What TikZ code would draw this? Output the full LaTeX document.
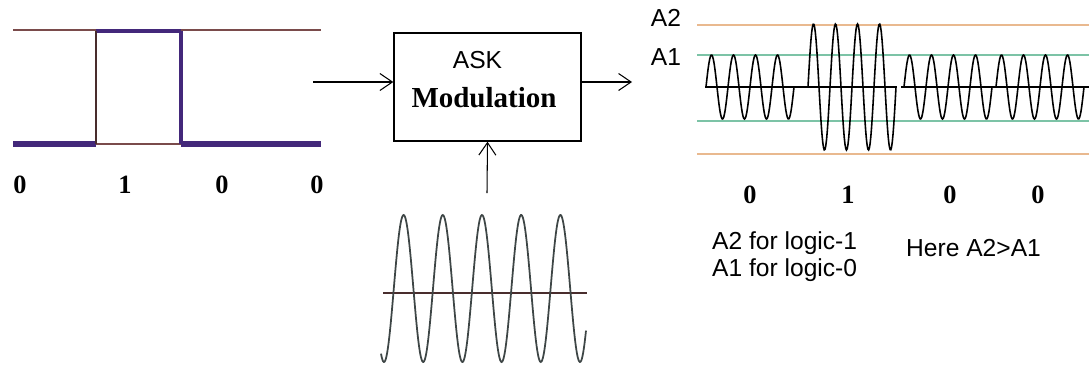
\documentclass[tikz,border=0pt]{standalone}
\usepackage{fontspec}
\setmainfont{Liberation Sans}
\newfontfamily\bitfont{Liberation Serif}
\usetikzlibrary{arrows.meta,positioning,calc}
\definecolor{lvlbrown}{HTML}{7A4B4B}
\definecolor{pulsepurple}{HTML}{43287A}
\definecolor{ampA}{HTML}{E9B98F}
\definecolor{ampB}{HTML}{7CC3A6}
\definecolor{carrgray}{HTML}{3E4646}

\begin{document}
\begin{tikzpicture}[x=0.02cm, y=-0.02cm,
  lbl/.style={font=\fontsize{14}{15.5}\selectfont},
  bit/.style={font=\bitfont\bfseries\fontsize{15}{17}\selectfont},
  sig/.style={-{Straight Barb[length=2.5mm,width=3.4mm]}, line width=0.6pt}]
\useasboundingbox (0,0) rectangle (1089,376);
% binary input 0 1 0 0
\draw[lvlbrown, line width=1.6pt] (13,30) -- (321,30);
\draw[lvlbrown, line width=1pt] (96,144) -- (181,144);
\draw[pulsepurple, line width=3.4pt] (13,144) -- (96,144) (181,144) -- (321,144);
\draw[pulsepurple, line width=2.8pt] (96,31) -- (181,31);
\draw[lvlbrown!60!black, line width=1pt] (96,31) -- (96,144);
\draw[pulsepurple, line width=2pt] (181,31) -- (181,144);
\foreach \x/\b [count=\i] in {20/0, 125/1, 222/0, 317/0}
  \node[bit] (inb\i) at (\x,185) {\b};
% modulator block
\node[draw, line width=0.8pt, minimum width=3.74cm, minimum height=2.16cm] (ask) at (487.5,87) {};
\node[lbl] (askt) at (477.5,60) {ASK};
\node[bit, font=\bitfont\bfseries\fontsize{16.5}{18}\selectfont] (askm) at (484,98) {Modulation};
\coordinate (din) at (313,82);
\coordinate (aout) at (632,82);
\coordinate (cin) at (487,193);
\draw[sig] (din) -- (din -| ask.west);
\draw[sig] (ask.east |- aout) -- (aout);
\draw[sig] (cin) -- (ask.south);
% carrier
\draw[lvlbrown!60!black, line width=0.8pt] (383,293) -- (587,293);
\draw[carrgray, line width=1pt] plot[domain=-3:202, samples=300] ({384+\x},{288.5+73.5*cos(\x*9.1837)});
% ASK output
\node[lbl] (a2) at (666,18) {A2};
\node[lbl] (a1) at (666,57) {A1};
\draw[ampA, line width=1.2pt] (697,25) -- (1089,25) (697,154) -- (1089,154);
\draw[ampB, line width=1.2pt] (697,55) -- (1089,55) (697,121) -- (1089,121);
\draw[line width=0.8pt] (705,87) -- (897,87) (901,87) -- (1089,87);
\foreach \s/\a in {706/32, 808/63, 904/32, 996/32}
  \draw[line width=0.9pt] plot[domain=0:88, samples=120] ({\s+\x},{87-\a*sin(\x*16.3636)});
\foreach \x/\b [count=\i] in {750/0, 848/1, 950/0, 1038/0}
  \node[bit] (outb\i) at (\x,195) {\b};
\node[lbl, align=left, anchor=west] (rule) at (706,257) {A2 for logic-1\\A1 for logic-0};
\node[lbl, anchor=west] (cmp) at (900,248) {Here A2>A1};
\end{tikzpicture}
\end{document}
